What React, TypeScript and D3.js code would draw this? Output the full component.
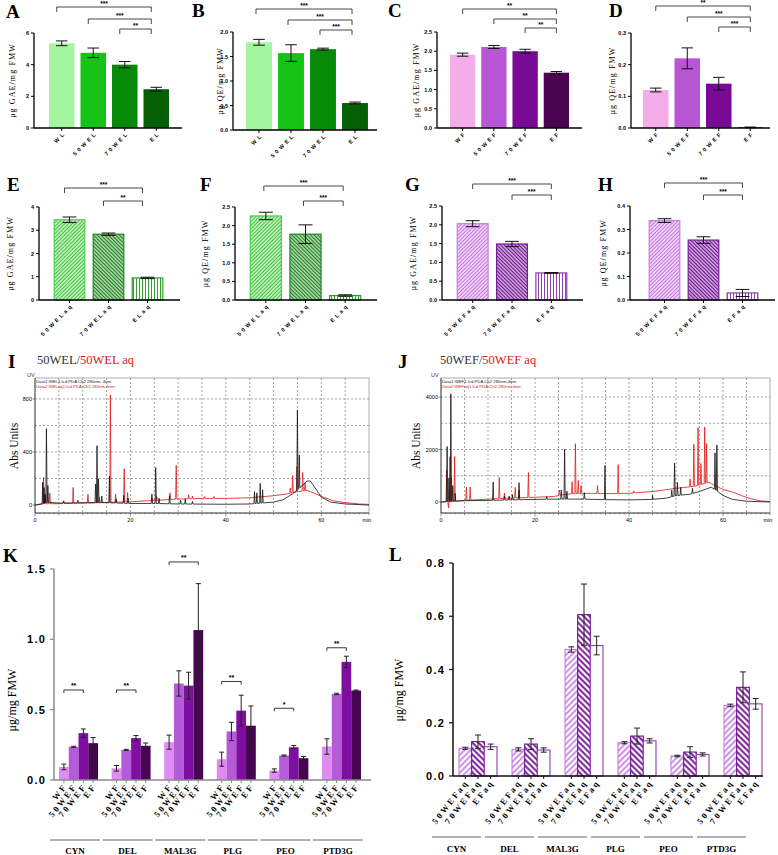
import React from "react";
import * as d3 from "d3";

// ---------------- DATA ----------------
const catsA = ["WL", "50WEL", "70WEL", "EL"];
const tickA = ["W L", "5 0 W E L", "7 0 W E L", "E L"];
const valA = [5.35, 4.75, 4.0, 2.45];
const errA = [0.15, 0.3, 0.2, 0.12];
const valB = [1.79, 1.57, 1.65, 0.55];
const errB = [0.06, 0.17, 0.02, 0.02];

const catsC = ["WF", "50WEF", "70WEF", "EF"];
const tickC = ["W F", "5 0 W E F", "7 0 W E F", "E F"];
const valC = [1.91, 2.11, 2.0, 1.44];
const errC = [0.04, 0.04, 0.05, 0.03];
const valD = [0.12, 0.22, 0.14, 0.002];
const errD = [0.006, 0.033, 0.02, 0.001];

const catsE = ["50WEL aq", "70WEL aq", "EL aq"];
const tickE = ["5 0 W E L  a q", "7 0 W E L  a q", "E L  a q"];
const valE = [3.45, 2.83, 0.95];
const errE = [0.12, 0.05, 0.03];
const valF = [2.26, 1.77, 0.12];
const errF = [0.1, 0.25, 0.02];

const catsG = ["50WEF aq", "70WEF aq", "EF aq"];
const tickG = ["5 0 W E F  a q", "7 0 W E F  a q", "E F  a q"];
const valG = [2.03, 1.49, 0.72];
const errG = [0.08, 0.07, 0.01];
const valH = [0.338, 0.255, 0.03];
const errH = [0.008, 0.014, 0.015];

// significance: [from, to, label]
const sigA: [number, number, string][] = [[0, 3, "***"], [1, 3, "***"], [2, 3, "**"]];
const sigB: [number, number, string][] = [[0, 3, "***"], [1, 3, "***"], [2, 3, "***"]];
const sigC: [number, number, string][] = [[0, 3, "**"], [1, 3, "**"], [2, 3, "**"]];
const sigD: [number, number, string][] = [[0, 3, "**"], [1, 3, "***"], [2, 3, "***"]];
const sigE: [number, number, string][] = [[0, 2, "***"], [1, 2, "**"]];
const sigF: [number, number, string][] = [[0, 2, "***"], [1, 2, "***"]];
const sigG: [number, number, string][] = [[0, 2, "***"], [1, 2, "***"]];
const sigH: [number, number, string][] = [[0, 2, "***"], [1, 2, "***"]];

// Chromatogram I (50WEL black / 50WEL aq red): baseline [t, v] and peaks [t, height]
const iBlackBase = [[0, 0], [1.5, 10], [3, 20], [5, 15], [10, 17], [15, 18], [20, 12], [25, 12], [30, 8], [35, 7], [40, 6], [45, 8], [50, 22], [52, 40], [54, 85], [55.5, 130], [57, 180], [57.7, 182], [58.5, 140], [60, 60], [62, 22], [65, 8], [70, 0]];
const iBlackPeaks = [[1.6, 160], [1.9, 120], [2.1, 70], [2.4, 560], [2.7, 130], [6, 15], [9, 20], [12.7, 140], [13.0, 430], [13.3, 180], [14.0, 50], [15.6, 200], [17, 30], [18.6, 60], [19.5, 40], [24.5, 70], [25.3, 270], [26, 40], [28.2, 60], [30.5, 30], [31.5, 40], [33, 20], [46, 90], [46.5, 80], [47.2, 150], [47.7, 100], [55.0, 600], [55.4, 250]];
const iRedBase = [[0, 0], [2, 10], [5, 10], [10, 15], [15, 20], [20, 25], [25, 35], [30, 45], [35, 50], [40, 50], [45, 55], [50, 70], [53, 85], [55, 100], [57, 110], [58.5, 90], [60, 65], [62.5, 32], [65, 18], [68, 8], [70, 5]];
const iRedPeaks = [[1.8, 200], [2.2, 60], [3.1, 80], [6, 20], [8.0, 120], [11.1, 65], [13.5, 40], [15.8, 810], [16.9, 60], [18.7, 250], [19.4, 70], [24.5, 20], [25.5, 30], [28.3, 50], [29.6, 255], [32.2, 30], [33, 20], [35.5, 15], [37.5, 15], [53.5, 40], [54.0, 130], [54.9, 190], [56.1, 140], [56.6, 60]];

// Chromatogram J (50WEF black / 50WEF aq red)
const jBlackBase = [[0, 0], [3, 30], [5, 50], [10, 60], [15, 80], [20, 100], [25, 110], [30, 110], [35, 90], [40, 80], [45, 100], [48, 150], [50, 240], [53, 300], [55, 400], [56.5, 500], [57.5, 560], [58.5, 450], [60, 250], [62, 100], [65, 30], [70, 0]];
const jBlackPeaks = [[1.3, 2100], [1.7, 900], [2.1, 4100], [2.5, 600], [3, 300], [11.1, 700], [13.5, 150], [14.5, 150], [15.2, 200], [16.6, 650], [22.5, 100], [25.6, 350], [26.3, 1900], [26.8, 300], [30.5, 250], [34.9, 1300], [45, 150], [49.1, 250], [49.7, 1250], [50.3, 500], [51, 300], [53.5, 200], [58.3, 1400], [58.7, 1750]];
const jRedBase = [[0, 0], [2, 20], [5, 60], [10, 110], [15, 150], [20, 180], [24, 210], [26, 280], [28, 320], [32, 330], [36, 320], [40, 330], [45, 400], [50, 520], [54, 600], [56, 700], [57, 750], [58, 650], [60, 480], [62, 380], [64, 240], [66, 120], [68, 40], [70, 20]];
const jRedPeaks = [[1.2, 1200], [1.6, -240], [1.9, 1700], [2.2, 900], [2.9, 1700], [5.4, 500], [6.2, 500], [12.4, 800], [13.5, 200], [15.8, 400], [16.6, 300], [18.6, 950], [25.2, 200], [27.9, 450], [28.6, 1900], [29.2, 500], [29.8, 300], [33.3, 300], [37.7, 1100], [41, 80], [53, 300], [53.8, 1600], [54.7, 2200], [55.3, 800], [56.1, 2150], [56.5, 1500]];

// K & L
const groups = ["CYN", "DEL", "MAL3G", "PLG", "PEO", "PTD3G"];
const kSeries = ["WF", "50WEF", "70WEF", "EF"];
const kTicks = ["W F", "5 0 W E F", "7 0 W E F", "E F"];
const kWF = [0.093, 0.083, 0.269, 0.148, 0.067, 0.238];
const kWFerr = [0.02, 0.02, 0.05, 0.05, 0.012, 0.055];
const k50 = [0.236, 0.214, 0.686, 0.345, 0.174, 0.612];
const k50err = [0.004, 0.004, 0.09, 0.065, 0.004, 0.005];
const k70 = [0.333, 0.298, 0.671, 0.493, 0.233, 0.84];
const k70err = [0.03, 0.018, 0.095, 0.11, 0.012, 0.04];
const kEF = [0.262, 0.243, 1.066, 0.386, 0.155, 0.636];
const kEFerr = [0.04, 0.02, 0.33, 0.14, 0.012, 0.004];
const kSigFrom = [0, 0, 0, 0, 0, 0];
const kSigTo = [2, 2, 3, 2, 2, 2];
const kSigY = [0.64, 0.64, 1.55, 0.7, 0.51, 0.94];
const kSigLab = ["**", "**", "**", "**", "*", "**"];

const lSeries = ["50WEF aq", "70WEF aq", "EF aq"];
const lTicks = ["5 0 W E F  a q", "7 0 W E F  a q", "E F  a q"];
const l50 = [0.104, 0.1, 0.475, 0.125, 0.075, 0.265];
const l50err = [0.004, 0.006, 0.01, 0.004, 0.003, 0.005];
const l70 = [0.129, 0.12, 0.606, 0.15, 0.09, 0.333];
const l70err = [0.025, 0.02, 0.115, 0.03, 0.02, 0.058];
const lEF = [0.11, 0.0975, 0.49, 0.132, 0.081, 0.271];
const lEFerr = [0.01, 0.008, 0.035, 0.008, 0.006, 0.02];

// ---------------- STYLE ----------------
const SERIF = "'Liberation Serif', 'Times New Roman', serif";
const SANS = "'Liberation Sans', Arial, sans-serif";
const greens = ["#A4F5A0", "#16C216", "#078A07", "#056005"];
const purples = ["#F5ADE9", "#B956D5", "#790A95", "#4B0452"];
const kColors = ["#DE8CF2", "#B55AD8", "#7F0FA0", "#46054F"];

function BarPanel({ c }: { c: any }) {
  const y = d3.scaleLinear().domain([0, c.max]).range([c.yBase, c.yTop]);
  const x = d3.scaleBand<string>().domain(c.cats).range(c.range).paddingInner(c.pad).paddingOuter(c.pad / 2);
  const bw = x.bandwidth();
  const cx = (i: number) => (x(c.cats[i]) as number) + bw / 2;
  const capW = bw * 0.45;
  return (
    <g>
      <text x={c.lx} y={c.ly} fontFamily={SERIF} fontWeight="bold" fontSize={19}>{c.letter}</text>
      <text transform={`translate(${c.ylabX},${(c.yTop + c.yBase) / 2}) rotate(-90)`} textAnchor="middle" fontFamily={SERIF} fontSize={8} letterSpacing={1.1}>{c.ylab}</text>
      {c.vals.map((v: number, i: number) => (
        <rect key={"b" + i} x={x(c.cats[i])} y={y(v)} width={bw} height={c.yBase - y(v)} fill={c.fills[i]} stroke={c.strokes ? c.strokes[i] : "none"} strokeWidth={1.2} />
      ))}
      {c.vals.map((v: number, i: number) => {
        const e = c.errs[i];
        const x0 = cx(i);
        return (
          <g key={"e" + i} stroke="#111" strokeWidth={1}>
            <line x1={x0} x2={x0} y1={y(Math.max(0, v - e))} y2={y(v + e)} />
            <line x1={x0 - capW / 2} x2={x0 + capW / 2} y1={y(v + e)} y2={y(v + e)} />
            <line x1={x0 - capW / 2} x2={x0 + capW / 2} y1={y(Math.max(0, v - e))} y2={y(Math.max(0, v - e))} />
          </g>
        );
      })}
      <line x1={c.axisX} x2={c.axisX} y1={c.yBase} y2={c.yTop} stroke="#000" strokeWidth={1.3} />
      <line x1={c.axisX} x2={c.axisEnd} y1={c.yBase} y2={c.yBase} stroke="#000" strokeWidth={1.3} />
      {c.ticks.map((t: number) => (
        <g key={"t" + t}>
          <line x1={c.axisX - 3} x2={c.axisX} y1={y(t)} y2={y(t)} stroke="#000" strokeWidth={1} />
          <text x={c.axisX - 5} y={y(t) + 2} textAnchor="end" fontFamily={SANS} fontWeight="bold" fontSize={5.5}>{d3.format(c.fmt)(t)}</text>
        </g>
      ))}
      {c.cats.map((k: string, i: number) => (
        <g key={"x" + i}>
          <line x1={cx(i)} x2={cx(i)} y1={c.yBase} y2={c.yBase + 3} stroke="#000" strokeWidth={1} />
          <text transform={`translate(${cx(i) + 3},${c.yBase + 7}) rotate(-45)`} textAnchor="end" fontFamily={SANS} fontWeight="bold" fontSize={5.5} letterSpacing={0.6}>{c.tickLabels[i]}</text>
        </g>
      ))}
      {c.sig.map((s: [number, number, string], j: number) => {
        const x1 = cx(s[0]) + c.sigOff;
        const x2 = cx(s[1]) + c.sigOff;
        const yy = c.sigLevels[j];
        return (
          <g key={"s" + j}>
            <path d={`M${x1},${yy + 5}L${x1},${yy}L${x2},${yy}L${x2},${yy + 5}`} fill="none" stroke="#333" strokeWidth={0.9} />
            <text x={(x1 + x2) / 2} y={yy - 1.5} textAnchor="middle" fontFamily={SANS} fontWeight="bold" fontSize={6.5}>{s[2]}</text>
          </g>
        );
      })}
    </g>
  );
}

function buildTrace(base: number[][], peaks: number[][], w: number): [number, number][] {
  const bs = d3.scaleLinear().domain(base.map((d) => d[0])).range(base.map((d) => d[1]));
  const pts: [number, number][] = base.map((d) => [d[0], d[1]]);
  peaks.forEach(([t, h]) => {
    pts.push([t - w, bs(t - w)]);
    pts.push([t, bs(t) + h]);
    pts.push([t + w, bs(t + w)]);
  });
  pts.sort((a, b) => a[0] - b[0]);
  return pts;
}

function Chrom({ c }: { c: any }) {
  const [L, T, R, B] = c.box;
  const x = d3.scaleLinear().domain([0, 70]).range([L, R]);
  const y = d3.scaleLinear().domain(c.yDomain).range([B, T]);
  const line = d3.line<[number, number]>().x((d) => x(d[0])).y((d) => y(d[1]));
  const black = buildTrace(c.blackBase, c.blackPeaks, 0.13);
  const red = buildTrace(c.redBase, c.redPeaks, 0.13);
  const xgrid = d3.range(5, 70, 5);
  const ygrid = d3.range(c.gridStep, c.yDomain[1], c.gridStep);
  const clipId = "clip" + c.letter;
  return (
    <g>
      <defs>
        <clipPath id={clipId}><rect x={L} y={T} width={R - L} height={B - T} /></clipPath>
      </defs>
      <text x={c.lx} y={c.ly} fontFamily={SERIF} fontWeight="bold" fontSize={19}>{c.letter}</text>
      <text x={c.titleX} y={c.titleY} fontFamily={SERIF} fontSize={12.5}>
        <tspan fill="#333">{c.t1}</tspan><tspan fill="#E01818">{c.t2}</tspan>
      </text>
      <text x={c.uvX} y={T - 1} fontFamily={SANS} fontSize={5.5} fill="#333">UV</text>
      <text transform={`translate(${c.ylabX},${c.ylabY}) rotate(-90)`} textAnchor="middle" fontFamily={SERIF} fontSize={11.5}>Abs Units</text>
      <rect x={L} y={T} width={R - L} height={B - T} fill="#fff" stroke="#999" strokeWidth={0.8} />
      {xgrid.map((g) => (
        <line key={"gx" + g} x1={x(g)} x2={x(g)} y1={T} y2={B} stroke="#8c8c8c" strokeWidth={0.8} strokeDasharray="2,2" />
      ))}
      {ygrid.map((g) => (
        <line key={"gy" + g} x1={L} x2={R} y1={y(g)} y2={y(g)} stroke="#8c8c8c" strokeWidth={0.8} strokeDasharray="2,2" />
      ))}
      <text x={L + 1} y={T + 4.5} fontFamily={SANS} fontSize={4.3} fill="#222">{c.leg1}</text>
      <text x={L + 1} y={T + 10} fontFamily={SANS} fontSize={4.3} fill="#E01818">{c.leg2}</text>
      <g clipPath={`url(#${clipId})`}>
        <path d={line(red) || ""} fill="none" stroke="#E01818" strokeWidth={0.8} />
        <path d={line(black) || ""} fill="none" stroke="#111" strokeWidth={0.8} />
      </g>
      <line x1={L} x2={R} y1={B} y2={B} stroke="#333" strokeWidth={0.8} />
      <line x1={L} x2={L} y1={T} y2={B} stroke="#333" strokeWidth={0.8} />
      {d3.range(0, 71, 1).map((t) => (
        <line key={"xt" + t} x1={x(t)} x2={x(t)} y1={B} y2={B + (t % 20 === 0 ? 3.5 : t % 5 === 0 ? 2.2 : 1.2)} stroke="#333" strokeWidth={0.5} />
      ))}
      {[0, 20, 40, 60].map((t) => (
        <text key={"xl" + t} x={x(t)} y={B + 8.5} textAnchor="middle" fontFamily={SANS} fontSize={5.5}>{t}</text>
      ))}
      <text x={R - 2} y={B + 8.5} textAnchor="middle" fontFamily={SANS} fontSize={5.5}>min</text>
      {c.yTicks.map((t: number) => (
        <g key={"yt" + t}>
          <line x1={L - 2.5} x2={L} y1={y(t)} y2={y(t)} stroke="#333" strokeWidth={0.6} />
          <text x={L - 3} y={y(t) + 2} textAnchor="end" fontFamily={SANS} fontSize={5.5}>{t}</text>
        </g>
      ))}
    </g>
  );
}

function GroupPanel({ c }: { c: any }) {
  const y = d3.scaleLinear().domain([0, c.max]).range([c.yBase, c.yTop]);
  const x = d3.scaleBand<string>().domain(groups).range(c.range).paddingInner(c.pad).paddingOuter(c.pad / 2);
  const xs = d3.scaleBand<string>().domain(c.series).range([0, x.bandwidth()]);
  const bw = xs.bandwidth();
  const cx = (g: number, s: number) => (x(groups[g]) as number) + (xs(c.series[s]) as number) + bw / 2;
  return (
    <g>
      <text x={c.lx} y={c.ly} fontFamily={SERIF} fontWeight="bold" fontSize={19}>{c.letter}</text>
      <text transform={`translate(${c.ylabX},${c.ylabY}) rotate(-90)`} textAnchor="middle" fontFamily={SERIF} fontSize={12}>μg/mg FMW</text>
      {c.vals.map((arr: number[], s: number) =>
        arr.map((v: number, g: number) => (
          <rect key={`b${s}-${g}`} x={cx(g, s) - bw / 2} y={y(v)} width={bw} height={c.yBase - y(v)} fill={c.fills[s]} stroke={c.strokes[s]} strokeWidth={c.strokeW} />
        ))
      )}
      {c.vals.map((arr: number[], s: number) =>
        arr.map((v: number, g: number) => {
          const e = c.errs[s][g];
          const x0 = cx(g, s);
          return (
            <g key={`e${s}-${g}`} stroke="#222" strokeWidth={1}>
              <line x1={x0} x2={x0} y1={y(v - e)} y2={y(v + e)} />
              <line x1={x0 - c.cap} x2={x0 + c.cap} y1={y(v + e)} y2={y(v + e)} />
              <line x1={x0 - c.cap} x2={x0 + c.cap} y1={y(v - e)} y2={y(v - e)} />
            </g>
          );
        })
      )}
      <line x1={c.axisX} x2={c.axisX} y1={c.yBase} y2={c.yTop} stroke={c.axisColor} strokeWidth={1.5} />
      <line x1={c.axisX} x2={c.axisEnd} y1={c.yBase} y2={c.yBase} stroke={c.axisColor} strokeWidth={1.5} />
      {c.ticks.map((t: number) => (
        <g key={"t" + t}>
          <line x1={c.axisX - 4} x2={c.axisX} y1={y(t)} y2={y(t)} stroke={c.axisColor} strokeWidth={1.2} />
          <text x={c.axisX - 8} y={y(t) + 4} textAnchor="end" fontFamily={SANS} fontWeight="bold" fontSize={11} letterSpacing={1.2}>{d3.format(".1f")(t)}</text>
        </g>
      ))}
      {groups.map((gname, g) => (
        <g key={"g" + g}>
          {c.series.map((s: string, si: number) => (
            <g key={"xt" + si}>
              <line x1={cx(g, si)} x2={cx(g, si)} y1={c.yBase} y2={c.yBase + 3} stroke={c.axisColor} strokeWidth={1} />
              <text transform={`translate(${cx(g, si) + 2.5},${c.yBase + 8}) rotate(-52)`} textAnchor="end" fontFamily={SERIF} fontWeight="bold" fontSize={c.tickFont} letterSpacing={0.2}>{c.tickLabels[si]}</text>
            </g>
          ))}
          <line x1={(x(gname) as number) + c.ulFrom} x2={(x(gname) as number) + c.ulTo} y1={c.ulY} y2={c.ulY} stroke="#555" strokeWidth={0.9} />
          <text x={(x(gname) as number) + (c.ulFrom + c.ulTo) / 2} y={c.glY} textAnchor="middle" fontFamily={SERIF} fontWeight="bold" fontSize={9}>{gname}</text>
        </g>
      ))}
      {c.sig &&
        c.sig.from.map((f: number, g: number) => {
          const x1 = cx(g, f);
          const x2 = cx(g, c.sig.to[g]);
          const yy = y(c.sig.y[g]);
          return (
            <g key={"s" + g}>
              <path d={`M${x1},${yy + 3}L${x1},${yy}L${x2},${yy}L${x2},${yy + 3}`} fill="none" stroke="#222" strokeWidth={0.9} />
              <text x={(x1 + x2) / 2} y={yy - 1.5} textAnchor="middle" fontFamily={SANS} fontWeight="bold" fontSize={7}>{c.sig.lab[g]}</text>
            </g>
          );
        })}
    </g>
  );
}

function Pat({ id, bg, line, step, sw, angle }: any) {
  return (
    <pattern id={id} width={step} height={step} patternUnits="userSpaceOnUse" patternTransform={`rotate(${angle})`}>
      <rect width={step} height={step} fill={bg} />
      <line x1={step / 2} x2={step / 2} y1={0} y2={step} stroke={line} strokeWidth={sw} />
    </pattern>
  );
}

export default function App() {
  const panelsTop = [
    { letter: "A", lx: 6, ly: 18, ylab: "μg GAE/mg FMW", ylabX: 15, axisX: 34, axisEnd: 182, yTop: 33, yBase: 128, max: 6, ticks: [0, 2, 4, 6], fmt: "d", range: [46, 172], pad: 0.19, cats: catsA, tickLabels: tickA, vals: valA, errs: errA, fills: greens, sig: sigA, sigLevels: [7, 19, 29], sigOff: -5 },
    { letter: "B", lx: 192, ly: 17, ylab: "μg QE/mg FMW", ylabX: 223, axisX: 233, axisEnd: 377, yTop: 32, yBase: 130, max: 2, ticks: [0, 0.5, 1, 1.5, 2], fmt: ".1f", range: [243, 371], pad: 0.19, cats: catsA, tickLabels: tickA, vals: valB, errs: errB, fills: greens, sig: sigB, sigLevels: [9, 20, 30], sigOff: -3 },
    { letter: "C", lx: 388, ly: 17, ylab: "μg GAE/mg FMW", ylabX: 419, axisX: 437, axisEnd: 582, yTop: 32, yBase: 128, max: 2.5, ticks: [0, 0.5, 1, 1.5, 2, 2.5], fmt: ".1f", range: [447, 572], pad: 0.19, cats: catsC, tickLabels: tickC, vals: valC, errs: errC, fills: purples, sig: sigC, sigLevels: [9, 19, 28], sigOff: 0 },
    { letter: "D", lx: 609, ly: 17, ylab: "μg QE/mg FMW", ylabX: 615, axisX: 631, axisEnd: 770, yTop: 33, yBase: 128, max: 0.3, ticks: [0, 0.1, 0.2, 0.3], fmt: ".1f", range: [640, 766], pad: 0.19, cats: catsC, tickLabels: tickC, vals: valD, errs: errD, fills: purples, sig: sigD, sigLevels: [6, 17, 27], sigOff: 0 },
    { letter: "E", lx: 7, ly: 191, ylab: "μg GAE/mg FMW", ylabX: 13, axisX: 39, axisEnd: 180, yTop: 207, yBase: 300, max: 4, ticks: [0, 1, 2, 3, 4], fmt: "d", range: [50, 167], pad: 0.215, cats: catsE, tickLabels: tickE, vals: valE, errs: errE, fills: ["url(#gFwd)", "url(#gBack)", "url(#gVert)"], strokes: ["#4ED04E", "#1E8A1E", "#2E9E2E"], sig: sigE, sigLevels: [188, 201], sigOff: -5 },
    { letter: "F", lx: 200, ly: 191, ylab: "μg QE/mg FMW", ylabX: 208, axisX: 235, axisEnd: 377, yTop: 207, yBase: 300, max: 2.5, ticks: [0, 0.5, 1, 1.5, 2, 2.5], fmt: ".1f", range: [246, 365], pad: 0.215, cats: catsE, tickLabels: tickE, vals: valF, errs: errF, fills: ["url(#gFwd)", "url(#gBack)", "url(#gVert)"], strokes: ["#4ED04E", "#1E8A1E", "#2E9E2E"], sig: sigF, sigLevels: [186, 201], sigOff: -2 },
    { letter: "G", lx: 405, ly: 191, ylab: "μg GAE/mg FMW", ylabX: 416, axisX: 442, axisEnd: 583, yTop: 206, yBase: 300, max: 2.5, ticks: [0, 0.5, 1, 1.5, 2, 2.5], fmt: ".1f", range: [453, 571], pad: 0.215, cats: catsG, tickLabels: tickG, vals: valG, errs: errG, fills: ["url(#pFwd)", "url(#pBack)", "url(#pVert)"], strokes: ["#C77DE0", "#7A1E98", "#8E3CB0"], sig: sigG, sigLevels: [184, 195], sigOff: 0 },
    { letter: "H", lx: 598, ly: 191, ylab: "μg QE/mg FMW", ylabX: 606, axisX: 630, axisEnd: 775, yTop: 206, yBase: 300, max: 0.4, ticks: [0, 0.1, 0.2, 0.3, 0.4], fmt: ".1f", range: [645, 762], pad: 0.215, cats: catsG, tickLabels: tickG, vals: valH, errs: errH, fills: ["url(#pFwd)", "url(#pBack)", "url(#pVert)"], strokes: ["#C77DE0", "#7A1E98", "#8E3CB0"], sig: sigH, sigLevels: [183, 195], sigOff: 0 },
  ];
  const chromI = { letter: "I", lx: 8, ly: 368, t1: "50WEL/", t2: "50WEL aq", titleX: 37, titleY: 364, box: [35, 378, 369, 513], yDomain: [-60, 958], yTicks: [0, 400, 800], gridStep: 200, ylabX: 18, ylabY: 446, uvX: 27, leg1: "Data1:WEL1.lcd PDA Ch2 280nm, 4nm", leg2: "Data2:WELaq1.lcd PDA Ch2 280nm,4nm", blackBase: iBlackBase, blackPeaks: iBlackPeaks, redBase: iRedBase, redPeaks: iRedPeaks };
  const chromJ = { letter: "J", lx: 398, ly: 368, t1: "50WEF/", t2: "50WEF aq", titleX: 440, titleY: 364, box: [441, 378, 770, 513], yDomain: [-419, 4724], yTicks: [0, 2000, 4000], gridStep: 1000, ylabX: 420, ylabY: 446, uvX: 431, leg1: "Data1:WEF1.lcd PDA Ch2 280nm,4nm", leg2: "Data2:WEFaq1.lcd PDA Ch2 280nm,4nm", blackBase: jBlackBase, blackPeaks: jBlackPeaks, redBase: jRedBase, redPeaks: jRedPeaks };
  const panelK = { letter: "K", lx: 3, ly: 562, ylabX: 16, ylabY: 700, max: 1.5, yTop: 569, yBase: 780, ticks: [0, 0.5, 1, 1.5], axisX: 54, axisEnd: 371, axisColor: "#8a8a8a", range: [52.2, 367.8], pad: 0.259, series: kSeries, tickLabels: kTicks, tickFont: 8.5, vals: [kWF, k50, k70, kEF], errs: [kWFerr, k50err, k70err, kEFerr], fills: kColors, strokes: ["none", "none", "none", "none"], strokeW: 0, cap: 2.5, ulFrom: -9, ulTo: 41, ulY: 840, glY: 854, sig: { from: kSigFrom, to: kSigTo, y: kSigY, lab: kSigLab } };
  const panelL = { letter: "L", lx: 389, ly: 561, ylabX: 403, ylabY: 690, max: 0.8, yTop: 563, yBase: 776, ticks: [0, 0.2, 0.4, 0.6, 0.8], axisX: 453, axisEnd: 763, axisColor: "#111", range: [451.5, 769.5], pad: 0.283, series: lSeries, tickLabels: lTicks, tickFont: 8.5, vals: [l50, l70, lEF], errs: [l50err, l70err, lEFerr], fills: ["url(#lFwd)", "url(#lBack)", "#fff"], strokes: ["#C77DE0", "#70148E", "#8E3CB0"], strokeW: 1.1, cap: 3, ulFrom: -27, ulTo: 22, ulY: 837, glY: 851.5 };
  return (
    <div style={{ position: "absolute", left: 0, top: 0 }}>
      <svg width={778} height={855} style={{ display: "block", background: "#fff" }}>
        <defs>
          <Pat id="gFwd" bg="#C6F3C0" line="#3FBF3F" step={2.6} sw={1} angle={45} />
          <Pat id="gBack" bg="#A6D4A3" line="#237F23" step={2.6} sw={1} angle={-45} />
          <Pat id="gVert" bg="#fff" line="#2E9E2E" step={3} sw={1} angle={0} />
          <Pat id="pFwd" bg="#F1D8F8" line="#C272DF" step={2.6} sw={1} angle={45} />
          <Pat id="pBack" bg="#C9A2DA" line="#6C168C" step={2.6} sw={1} angle={-45} />
          <Pat id="pVert" bg="#fff" line="#9040B2" step={3} sw={1} angle={0} />
          <Pat id="lFwd" bg="#fff" line="#C77DE0" step={4.2} sw={1.7} angle={45} />
          <Pat id="lBack" bg="#fff" line="#70148E" step={4.2} sw={1.9} angle={-45} />
        </defs>
        {panelsTop.map((p) => <BarPanel key={p.letter} c={p} />)}
        <Chrom c={chromI} />
        <Chrom c={chromJ} />
        <GroupPanel c={panelK} />
        <GroupPanel c={panelL} />
      </svg>
    </div>
  );
}
